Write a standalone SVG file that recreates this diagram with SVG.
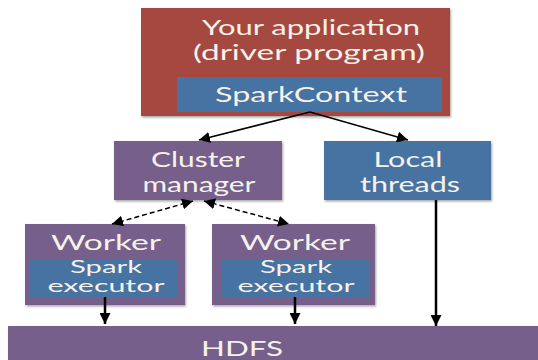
<svg xmlns="http://www.w3.org/2000/svg" width="538" height="360" viewBox="0 0 538 360">
<defs>
<marker id="ah2" viewBox="0 0 10 10" refX="10" refY="5" markerWidth="11" markerHeight="11" orient="auto-start-reverse" markerUnits="userSpaceOnUse"><path d="M0,0 L10,5 L0,10 z" fill="#000"/></marker>
<filter id="sh" x="-5%" y="-5%" width="110%" height="120%"><feDropShadow dx="1" dy="1.5" stdDeviation="1" flood-color="#000" flood-opacity="0.35"/></filter>
</defs>
<style>
.red{fill:#a5493f;filter:url(#sh)}
.blue{fill:#4673a2}
.blueb{fill:#4673a2;filter:url(#sh)}
.pur{fill:#775e8c;filter:url(#sh)}
text{font-family:Lato,"Open Sans","Liberation Sans",sans-serif;fill:#f6f2ea;text-anchor:middle;font-size:21px}
.sm{font-size:17px}
.ln{stroke:#000;fill:none}
</style>
<rect width="538" height="360" fill="#fff"/>
<g id="driver">
<rect class="red" x="141" y="8" width="309" height="108"/>
<text x="311" y="35" textLength="218" lengthAdjust="spacingAndGlyphs">Your application</text>
<text x="309" y="60" textLength="232" lengthAdjust="spacingAndGlyphs">(driver program)</text>
</g>
<g id="sparkcontext">
<rect class="blue" x="177" y="77" width="265" height="35"/>
<text x="311" y="102" textLength="192" lengthAdjust="spacingAndGlyphs">SparkContext</text>
</g>
<g id="cluster">
<rect class="pur" x="114" y="141" width="168" height="59"/>
<text x="198" y="167" textLength="94" lengthAdjust="spacingAndGlyphs">Cluster</text>
<text x="199" y="192" textLength="113" lengthAdjust="spacingAndGlyphs">manager</text>
</g>
<g id="local">
<rect class="blueb" x="324" y="141" width="167" height="59"/>
<text x="408" y="167" textLength="69" lengthAdjust="spacingAndGlyphs">Local</text>
<text x="410" y="192" textLength="100" lengthAdjust="spacingAndGlyphs">threads</text>
</g>
<g id="worker1">
<rect class="pur" x="25" y="224" width="160" height="81"/>
<text x="106" y="250" textLength="110" lengthAdjust="spacingAndGlyphs">Worker</text>
<rect class="blue" x="30" y="259" width="148" height="38"/>
<text class="sm" x="106" y="273" textLength="72" lengthAdjust="spacingAndGlyphs">Spark</text>
<text class="sm" x="106" y="292" textLength="117" lengthAdjust="spacingAndGlyphs">executor</text>
</g>
<g id="worker2">
<rect class="pur" x="212" y="224" width="163" height="81"/>
<text x="295" y="250" textLength="110" lengthAdjust="spacingAndGlyphs">Worker</text>
<rect class="blue" x="221" y="259" width="148" height="38"/>
<text class="sm" x="296" y="273" textLength="72" lengthAdjust="spacingAndGlyphs">Spark</text>
<text class="sm" x="296" y="292" textLength="117" lengthAdjust="spacingAndGlyphs">executor</text>
</g>
<g id="hdfs">
<rect class="pur" x="8" y="326" width="540" height="40"/>
<text x="242" y="356" textLength="82" lengthAdjust="spacingAndGlyphs">HDFS</text>
</g>
<g id="connectors">
<path class="ln" d="M310,112 L199,140" stroke-width="1.5" marker-end="url(#ah2)"/>
<path class="ln" d="M310,112 L408,140" stroke-width="1.5" marker-end="url(#ah2)"/>
<path class="ln" d="M193,201 L112,224" stroke-width="1.5" stroke-dasharray="5,3" marker-start="url(#ah2)" marker-end="url(#ah2)"/>
<path class="ln" d="M204,201 L289,224" stroke-width="1.5" stroke-dasharray="5,3" marker-start="url(#ah2)" marker-end="url(#ah2)"/>
<path class="ln" d="M105,297 L105,324" stroke-width="2.5" marker-end="url(#ah2)"/>
<path class="ln" d="M295,297 L295,324" stroke-width="2.5" marker-end="url(#ah2)"/>
<path class="ln" d="M436,200 L436,326" stroke-width="2.5" marker-end="url(#ah2)"/>
</g>
</svg>
